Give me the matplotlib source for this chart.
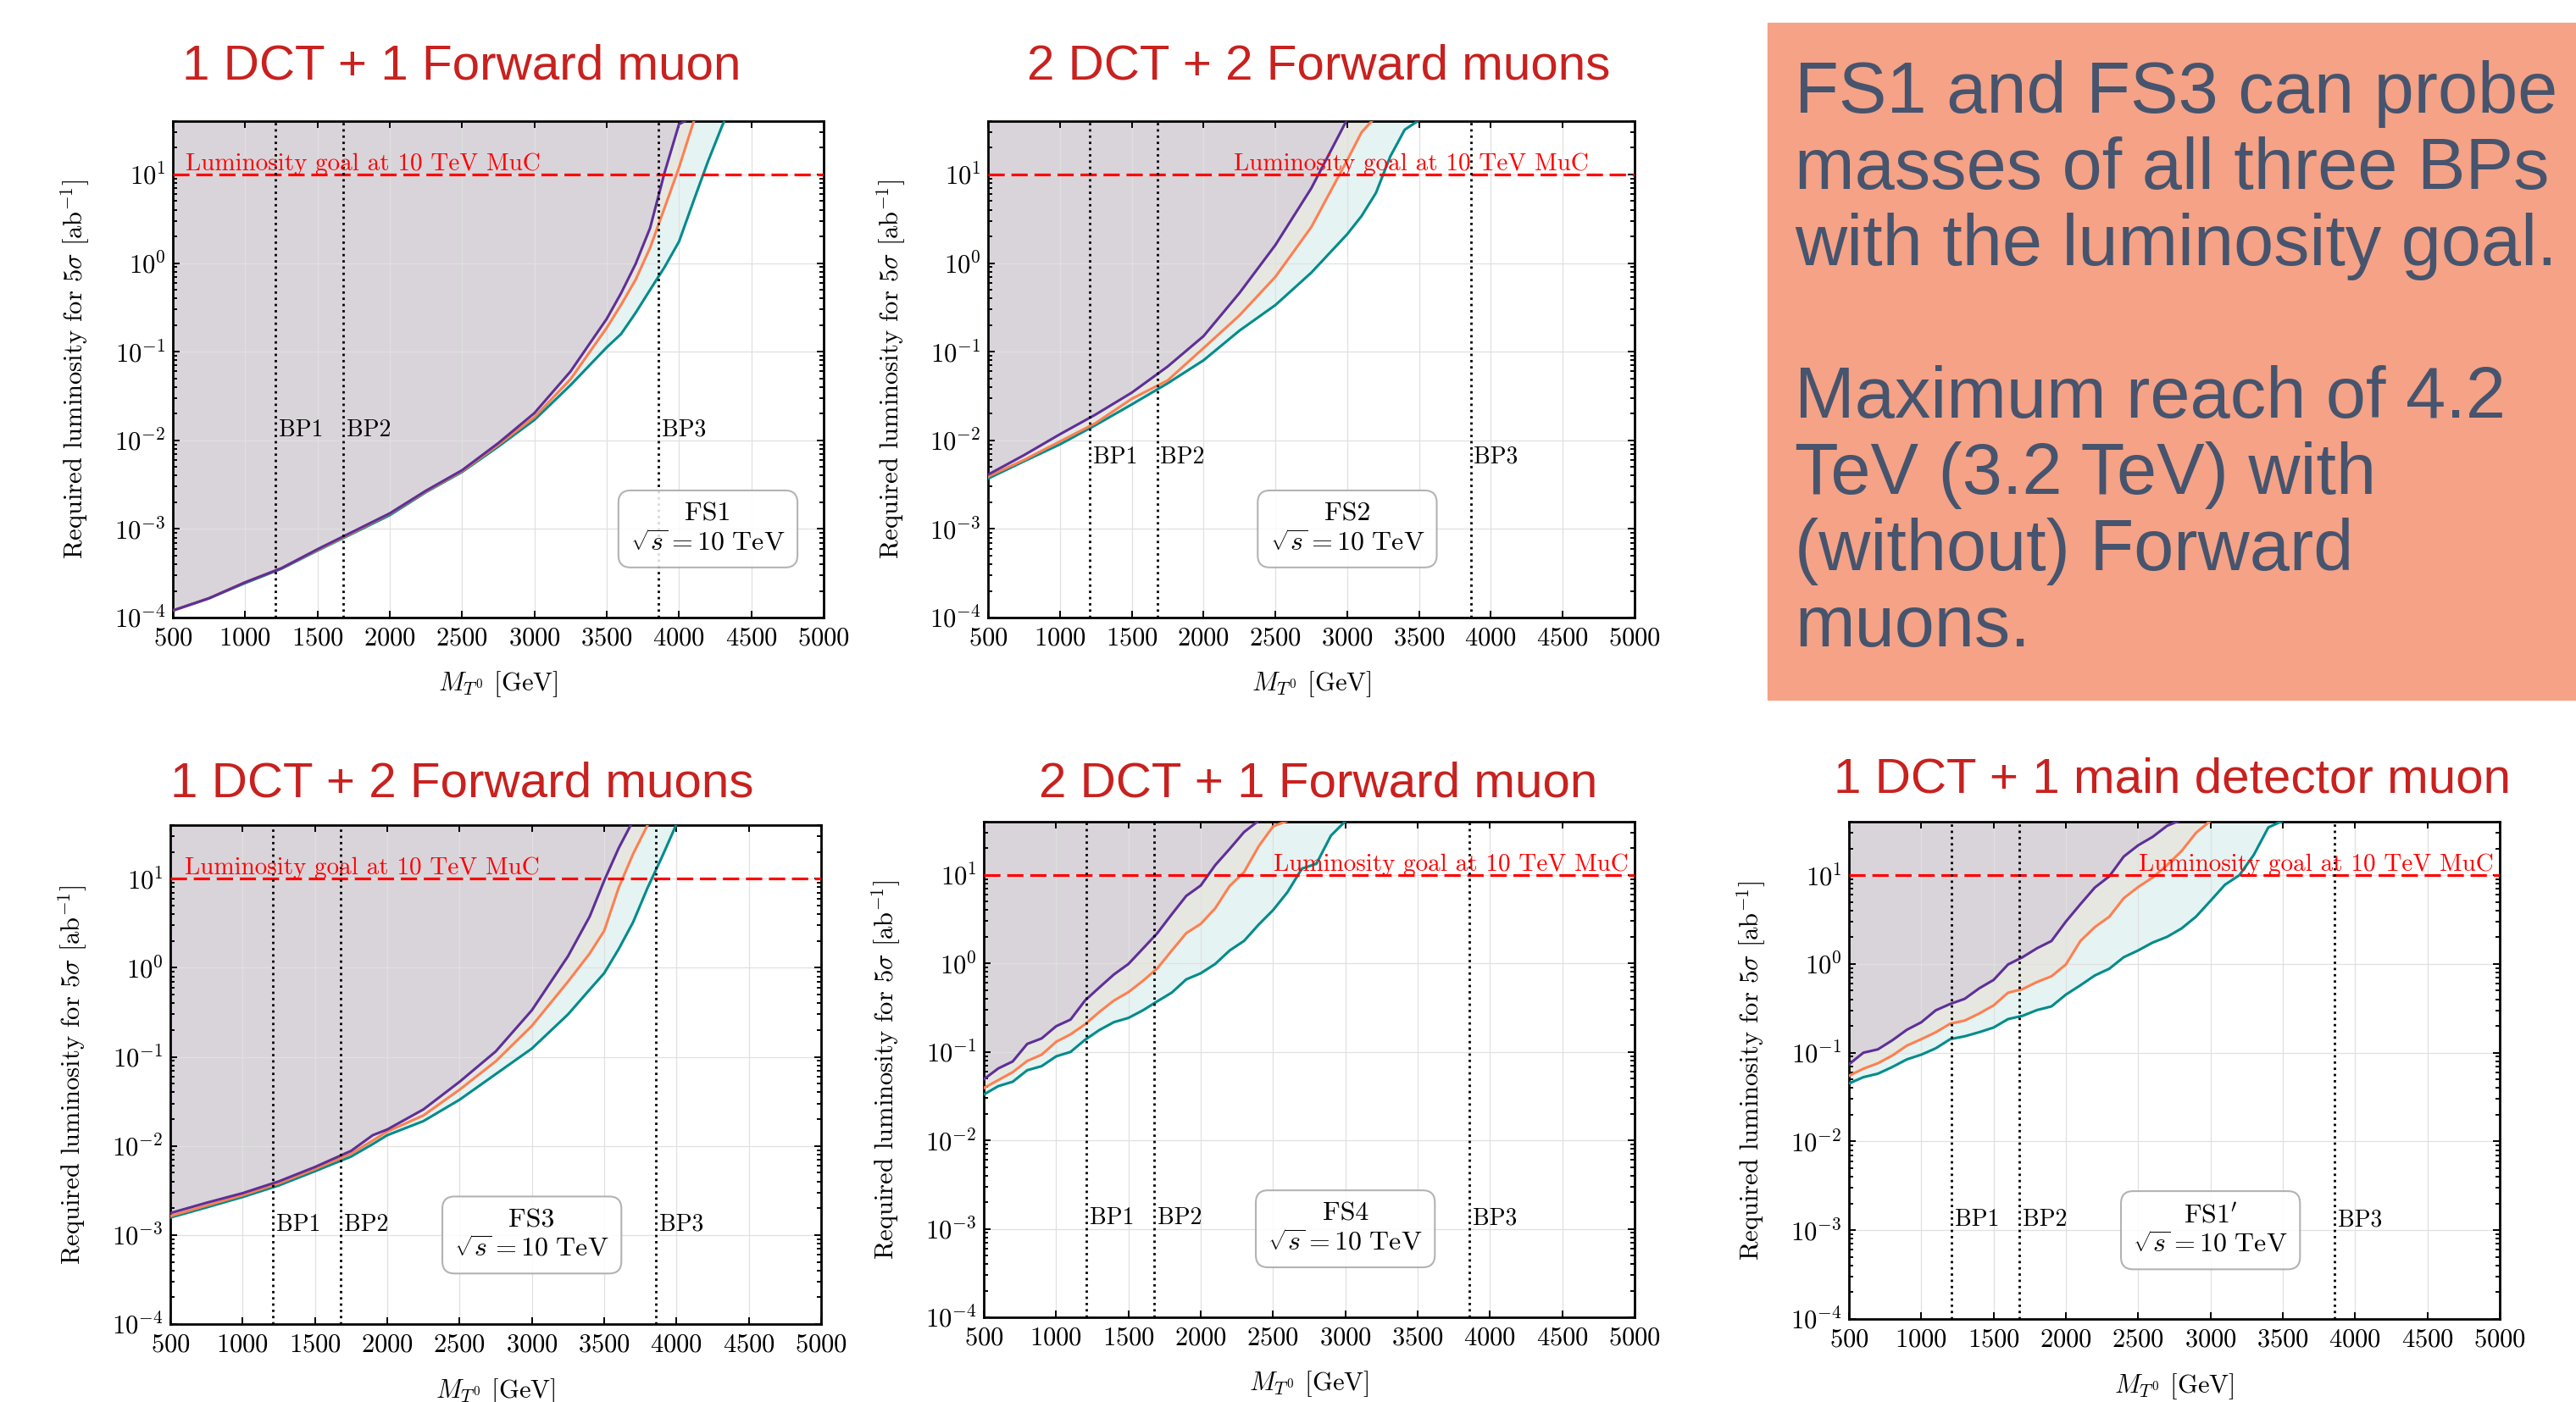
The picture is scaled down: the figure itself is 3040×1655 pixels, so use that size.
import numpy as np
import matplotlib
matplotlib.use("Agg")
import matplotlib.pyplot as plt
from matplotlib.patches import Rectangle

plt.rcParams["font.family"] = "serif"
plt.rcParams["font.serif"] = ["cmr10"]
plt.rcParams["mathtext.fontset"] = "cm"
plt.rcParams["axes.formatter.use_mathtext"] = True
plt.rcParams["axes.unicode_minus"] = False

# benchmark points and luminosity goal
bp_masses = [1210, 1680, 3860]
bp_names = ["BP1", "BP2", "BP3"]
lumi_goal = 10.0

titles = ["1 DCT + 1 Forward muon", "2 DCT + 2 Forward muons",
          "1 DCT + 2 Forward muons", "2 DCT + 1 Forward muon",
          "1 DCT + 1 main detector muon"]
fs_names = ["FS1", "FS2", "FS3", "FS4", r"FS1$'$"]

# FS1 : required luminosity [ab^-1] vs mass [GeV]  (values > 40 are off the plot)
m_fs1 = [500, 750, 1000, 1250, 1500, 1750, 2000, 2250, 2500, 2750, 3000, 3250,
         3500, 3600, 3700, 3800, 3900, 4000, 4100, 4200, 4300, 4400]
fs1_hi = [1.2e-4, 1.65e-4, 2.5e-4, 3.6e-4, 5.9e-4, 9.4e-4, 1.5e-3, 2.7e-3, 4.6e-3,
          9.3e-3, 0.0203, 0.06, 0.235, 0.46, 0.98, 2.49, 10.5, 37, 45, 100, 150, 200]
fs1_mid = [1.2e-4, 1.65e-4, 2.5e-4, 3.6e-4, 5.8e-4, 9.2e-4, 1.48e-3, 2.65e-3, 4.5e-3,
           8.9e-3, 0.0183, 0.049, 0.186, 0.34, 0.65, 1.49, 4.2, 12, 39, 80, 150, 200]
fs1_lo = [1.2e-4, 1.65e-4, 2.45e-4, 3.55e-4, 5.7e-4, 9.0e-4, 1.43e-3, 2.6e-3, 4.4e-3,
          8.5e-3, 0.017, 0.042, 0.112, 0.159, 0.275, 0.5, 0.9, 1.75, 5.0, 14, 36, 80]

# FS2
m_fs2 = [500, 750, 1000, 1250, 1500, 1750, 2000, 2250, 2500, 2750, 3000, 3100,
         3200, 3300, 3400, 3500]
fs2_hi = [0.0041, 0.0068, 0.0117, 0.0196, 0.0345, 0.068, 0.15, 0.46, 1.6, 7.0,
          42, 80, 100, 100, 100, 100]
fs2_mid = [0.0039, 0.006, 0.0097, 0.0157, 0.0294, 0.0474, 0.11, 0.257, 0.70, 2.55,
           14.5, 30, 45, 80, 100, 100]
fs2_lo = [0.0037, 0.0058, 0.009, 0.0149, 0.0254, 0.044, 0.08, 0.173, 0.336, 0.78,
          2.12, 3.4, 6.2, 16, 32, 41]

# FS3
m_fs3 = [500, 750, 1000, 1250, 1500, 1750, 1900, 2000, 2250, 2500, 2750, 3000,
         3250, 3400, 3500, 3600, 3700, 3800, 3900, 4000]
fs3_hi = [0.00176, 0.0023, 0.00295, 0.004, 0.0058, 0.0088, 0.0132, 0.0153, 0.0257,
          0.0525, 0.115, 0.334, 1.35, 3.77, 9.5, 22, 45, 80, 100, 100]
fs3_mid = [0.00163, 0.00214, 0.0028, 0.0038, 0.0055, 0.0082, 0.0115, 0.0145, 0.022,
           0.0428, 0.089, 0.223, 0.70, 1.45, 2.6, 7.9, 19, 40, 80, 100]
fs3_lo = [0.00157, 0.00204, 0.00267, 0.0036, 0.0052, 0.0076, 0.0105, 0.0132, 0.019,
          0.033, 0.064, 0.124, 0.3, 0.57, 0.87, 1.62, 3.25, 7.9, 17.6, 41]

# FS4
m_fs4 = list(range(500, 3101, 100))
fs4_hi = [0.049, 0.065, 0.078, 0.123, 0.142, 0.195, 0.232, 0.381, 0.537, 0.751,
          0.986, 1.47, 2.2, 3.6, 5.8, 7.6, 12.9, 19.7, 30.6, 41, 60, 80, 80, 80,
          80, 80, 80]
fs4_mid = [0.039, 0.048, 0.059, 0.079, 0.093, 0.13, 0.158, 0.205, 0.284, 0.381,
           0.474, 0.635, 0.88, 1.4, 2.2, 2.8, 4.2, 7.5, 10.8, 21, 35.4, 41, 80, 80,
           80, 80, 80]
fs4_lo = [0.033, 0.041, 0.046, 0.062, 0.069, 0.089, 0.1, 0.137, 0.177, 0.217,
          0.242, 0.295, 0.373, 0.468, 0.66, 0.774, 0.986, 1.4, 1.8, 2.74, 4.0, 6.4,
          11.8, 13.4, 27.8, 40.5, 80]

# FS1'
m_fs1p = list(range(500, 3501, 100))
fs1p_hi = [0.074, 0.1, 0.109, 0.138, 0.181, 0.22, 0.30, 0.354, 0.404, 0.53, 0.66,
           0.986, 1.19, 1.5, 1.81, 3.0, 4.7, 7.25, 9.7, 16.2, 21.7, 27, 36, 42, 80,
           80, 80, 80, 80, 80, 80]
fs1p_mid = [0.055, 0.066, 0.076, 0.093, 0.12, 0.142, 0.17, 0.212, 0.23, 0.276,
            0.341, 0.474, 0.52, 0.626, 0.725, 0.986, 1.81, 2.6, 3.4, 5.5, 7.36, 9.4,
            13, 18.7, 30, 41, 80, 80, 80, 80, 80]
fs1p_lo = [0.045, 0.053, 0.058, 0.069, 0.084, 0.095, 0.112, 0.142, 0.153, 0.17,
           0.192, 0.239, 0.26, 0.302, 0.332, 0.451, 0.574, 0.741, 0.883, 1.19, 1.42,
           1.74, 2.02, 2.51, 3.41, 5.14, 7.8, 10, 17, 34.5, 41]

W, H = 3040, 1655
fig = plt.figure(figsize=(W / 100, H / 100), dpi=100)

c_hi, c_mid, c_lo = "#5e2f98", "#ff7f50", "#008b8b"
title_col = "#c8211f"


def px_rect(left, right, top, bottom):
    return [left / W, 1 - bottom / H, (right - left) / W, (bottom - top) / H]


def draw_panel(rect, m, hi, mid, lo, title, title_xy, fs, goal_x, bp_y, box_x):
    ax = fig.add_axes(px_rect(*rect))
    m = np.array(m)
    for y, c in [(lo, c_lo), (mid, c_mid), (hi, c_hi)]:
        ax.fill_between(m, np.array(y), 1e3, color=c, alpha=0.1, lw=0, zorder=1)
    for y, c in [(lo, c_lo), (mid, c_mid), (hi, c_hi)]:
        ax.plot(m, y, color=c, lw=2.2, zorder=3)

    ax.axhline(lumi_goal, color="red", lw=2.3, dashes=(6, 2.5), zorder=4)
    ax.text(goal_x, lumi_goal * 1.12, "Luminosity goal at 10 TeV MuC", color="red",
            fontsize=21, ha="left", va="baseline", zorder=5)

    for bp, name in zip(bp_masses, bp_names):
        ax.axvline(bp, color="black", ls=":", lw=2.0, zorder=4)
        ax.text(bp + 20, bp_y, name, fontsize=20, ha="left", va="baseline", zorder=5)

    ax.text(box_x, 1e-3, fs + "\n" + r"$\sqrt{s} = 10\ \mathrm{TeV}$", fontsize=23,
            ha="center", va="center", multialignment="center", zorder=6,
            bbox=dict(boxstyle="round,pad=0.45", fc="white", ec="0.65", lw=1.5,
                      alpha=0.85))

    ax.set_yscale("log")
    ax.set_xlim(500, 5000)
    ax.set_ylim(1e-4, 40)
    ax.set_xticks(range(500, 5001, 500))
    ax.tick_params(which="both", direction="in", top=True, right=True,
                   labelsize=22, width=1.4)
    ax.tick_params(which="major", length=6)
    ax.tick_params(which="minor", length=3.5)
    ax.tick_params(axis="x", pad=8)
    ax.tick_params(axis="y", pad=6)
    ax.grid(True, which="major", color="0.88", lw=0.9)
    for s in ax.spines.values():
        s.set_linewidth(2)
    ax.set_xlabel(r"$M_{T^0}$ [GeV]", fontsize=22)
    ax.set_ylabel(r"Required luminosity for $5\sigma$ [ab$^{-1}$]", fontsize=22)
    ax.xaxis.set_label_coords(0.5, -0.105)
    ax.yaxis.set_label_coords(-0.125, 0.5)

    fig.text(title_xy[0] / W, 1 - title_xy[1] / H, title, color=title_col,
             fontsize=42, family="Liberation Sans", ha="center", va="baseline")
    return ax


draw_panel((204, 972, 143, 729), m_fs1, fs1_hi, fs1_mid, fs1_lo, titles[0],
           (545, 93), fs_names[0], 590, 0.0112, 4200)
draw_panel((1166, 1929, 143, 729), m_fs2, fs2_hi, fs2_mid, fs2_lo, titles[1],
           (1556, 93), fs_names[1], 2210, 0.0055, 3000)
draw_panel((201, 969, 974, 1563), m_fs3, fs3_hi, fs3_mid, fs3_lo, titles[2],
           (545, 940), fs_names[2], 600, 0.00112, 3000)
draw_panel((1161, 1929, 970, 1555), m_fs4, fs4_hi, fs4_mid, fs4_lo, titles[3],
           (1556, 940), fs_names[3], 2505, 0.00112, 3000)
draw_panel((2182, 2950, 970, 1557), m_fs1p, fs1p_hi, fs1p_mid, fs1p_lo, titles[4],
           (2563, 936), fs_names[4], 2505, 0.00112, 3000)

# summary box
fig.add_artist(Rectangle((2086 / W, 1 - 826 / H), (W - 2086) / W, (826 - 27) / H,
                         transform=fig.transFigure, color="#f5a286", zorder=0))
summary_lines = ["FS1 and FS3 can probe", "masses of all three BPs",
                 "with the luminosity goal.", "", "Maximum reach of 4.2",
                 "TeV (3.2 TeV) with", "(without) Forward", "muons."]
for i, line in enumerate(summary_lines):
    fig.text(2118 / W, 1 - (133 + 90 * i) / H, line, fontsize=61,
             family="Liberation Sans", color="#46546e", ha="left", va="baseline")

fig.savefig("out.png", dpi=100)
